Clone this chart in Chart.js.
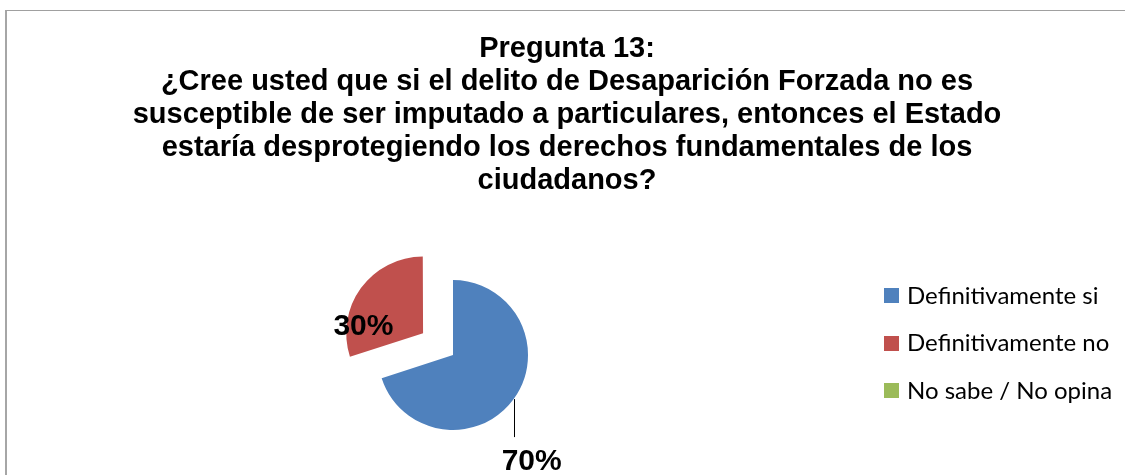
<!DOCTYPE html>
<html>
<head>
<meta charset="utf-8">
<script src="https://cdn.jsdelivr.net/npm/chart.js@4"></script>
<style>
  html, body { margin: 0; padding: 0; background: #fff; overflow: hidden; }
  #frame { position: absolute; left: 5px; top: 10px; width: 1300px; height: 700px;
           border-left: 2px solid #a6a6a6; border-top: 1px solid #a0a0a0; }
  #wrap { position: absolute; left: 0; top: 0; width: 1125px; height: 475px; }
</style>
</head>
<body>
<div id="frame"></div>
<div id="wrap"><canvas id="myChart"></canvas></div>
<script>
// chart text and values
const titleLines = [
  'Pregunta 13:',
  '¿Cree usted que si el delito de Desaparición Forzada no es',
  'susceptible de ser imputado a particulares, entonces el Estado',
  'estaría desprotegiendo los derechos fundamentales de los',
  'ciudadanos?'
];
const answers = ['Definitivamente si', 'Definitivamente no', 'No sabe / No opina'];
const percents = [70, 30, 0];
const sliceColors = ['#4F81BD', '#C0504D', '#9BBB59'];
const explode = [0, 148, 0]; // chart.js draws offset/4

// title, legend and % labels drawn on the canvas
const excelBits = {
  id: 'excelBits',
  afterDraw(chart) {
    const ctx = chart.ctx;
    ctx.save();

    // title
    ctx.fillStyle = '#000';
    ctx.font = 'bold 29px "Liberation Sans", Arial, sans-serif';
    ctx.textAlign = 'center';
    ctx.textBaseline = 'alphabetic';
    titleLines.forEach((t, i) => ctx.fillText(t, 567, 57 + i * 33));

    // legend
    ctx.font = '24px Lato, "Open Sans", sans-serif';
    ctx.textAlign = 'left';
    ctx.textBaseline = 'alphabetic';
    answers.forEach((a, i) => {
      const y = 295.5 + i * 47.5;
      ctx.fillStyle = sliceColors[i];
      ctx.fillRect(884, Math.round(y - 7.5), 15, 15);
      ctx.fillStyle = '#000';
      ctx.fillText(a, 907, y + 8);
    });

    // data labels
    const meta = chart.getDatasetMeta(0);
    const total = percents.reduce((s, v) => s + v, 0);
    ctx.font = 'bold 30px "Liberation Sans", Arial, sans-serif';
    ctx.textAlign = 'center';
    ctx.textBaseline = 'middle';
    meta.data.forEach((arc, i) => {
      if (!percents[i]) return;
      const p = arc.getProps(['x', 'y', 'startAngle', 'endAngle', 'outerRadius'], true);
      const mid = (p.startAngle + p.endAngle) / 2;
      const off = explode[i] / 4;
      const txt = Math.round(percents[i] / total * 100) + '%';
      if (off > 0) {
        const cx = p.x + Math.cos(mid) * off;
        const cy = p.y + Math.sin(mid) * off;
        const a = mid - 0.52;
        ctx.fillStyle = '#000';
        ctx.fillText(txt, cx + Math.cos(a) * p.outerRadius * 0.8, cy + Math.sin(a) * p.outerRadius * 0.8);
      } else {
        const ex = p.x + Math.cos(mid) * p.outerRadius;
        const ey = p.y + Math.sin(mid) * p.outerRadius;
        ctx.strokeStyle = '#000';
        ctx.lineWidth = 1;
        ctx.beginPath();
        ctx.moveTo(Math.round(ex) + 0.5, ey);
        ctx.lineTo(Math.round(ex) + 0.5, ey + 38);
        ctx.stroke();
        ctx.fillStyle = '#000';
        ctx.fillText(txt, ex + 18, ey + 63);
      }
    });
    ctx.restore();
  }
};

const ctx = document.getElementById('myChart');
new Chart(ctx, {
  type: 'pie',
  data: {
    labels: answers,
    datasets: [{
      data: percents,
      backgroundColor: sliceColors,
      borderWidth: 0,
      offset: explode,
      radius: 75
    }]
  },
  options: {
    responsive: true,
    maintainAspectRatio: false,
    animation: false,
    layout: { padding: { left: 300, right: 519, top: 235, bottom: 0 } },
    plugins: {
      legend: { display: false },
      title: { display: false },
      tooltip: { enabled: false }
    }
  },
  plugins: [excelBits]
});
</script>
</body>
</html>
